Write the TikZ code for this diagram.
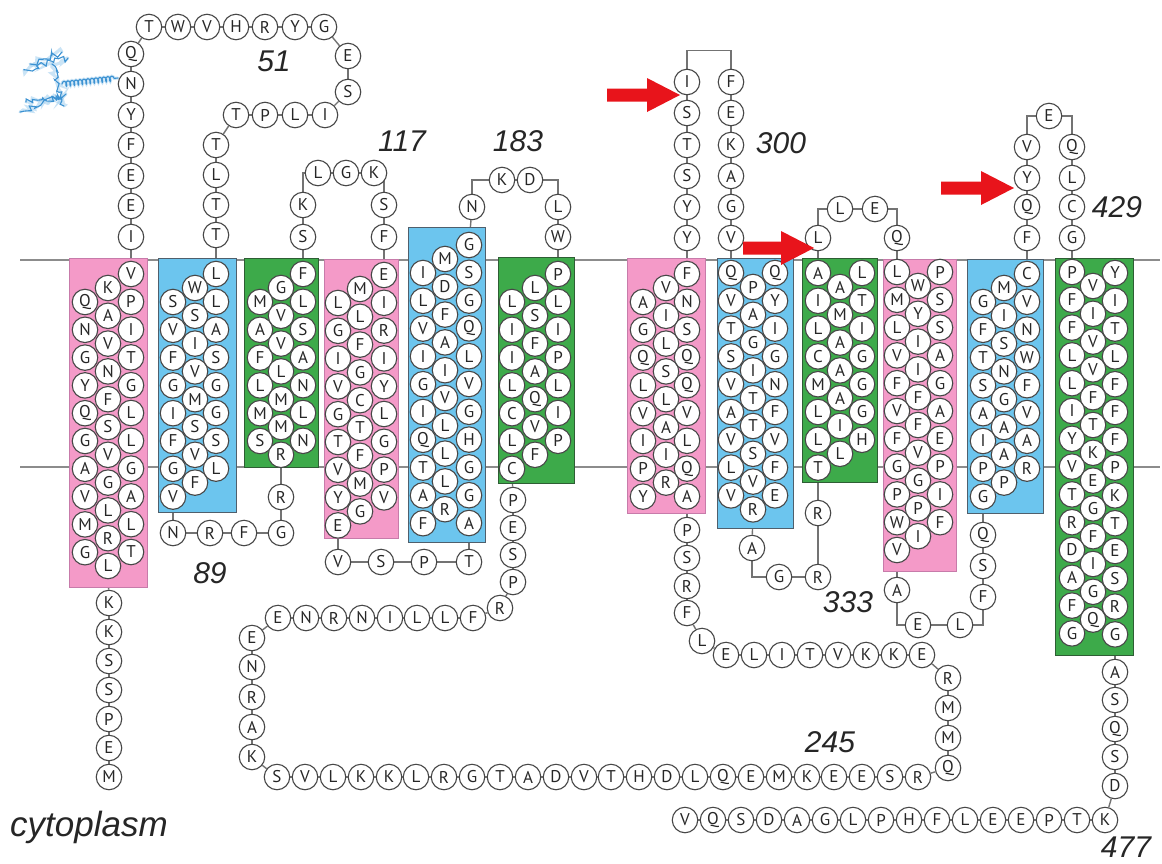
\documentclass[tikz,border=0pt]{standalone}
\usepackage{fontspec}
\setmainfont{PT Sans}
\newfontfamily\labfam{Liberation Sans}
\usetikzlibrary{decorations.pathmorphing}
\pgfdeclarelayer{paper}\pgfdeclarelayer{membrane}\pgfdeclarelayer{links}\pgfdeclarelayer{boxes}
\pgfsetlayers{paper,membrane,links,boxes,main}
\definecolor{tmpink}{HTML}{F49AC8}
\definecolor{tmpinkline}{HTML}{C77BAA}
\definecolor{tmblue}{HTML}{6CC5EE}
\definecolor{tmblueline}{HTML}{4F5F6C}
\definecolor{tmgreen}{HTML}{3DAA4A}
\definecolor{tmgreenline}{HTML}{2E5E34}
\definecolor{arrowred}{HTML}{E8141B}
\definecolor{ribbonblue}{HTML}{3C92D2}
\definecolor{ribbonlight}{HTML}{A8D2F0}
\newcommand\resfont{\fontsize{17}{17}\selectfont}
\newcommand\labfont{\labfam\itshape\fontsize{30}{30}\selectfont}
\newcommand\cytofont{\labfam\itshape\fontsize{35}{35}\selectfont}
\tikzset{
  res/.style={circle, draw=black!72, fill=white, line width=1.1pt, minimum size=25.5pt, inner sep=0pt, font=\resfont, text=black!85},
  link/.style={draw=black!55, line width=1.4pt},
  membrane/.style={draw=black!45, line width=1.4pt},
  pinkbox/.style={fill=tmpink, draw=tmpinkline, line width=1pt},
  bluebox/.style={fill=tmblue, draw=tmblueline, line width=1pt},
  greenbox/.style={fill=tmgreen, draw=tmgreenline, line width=1pt},
  numlab/.style={font=\labfont, text=black!85, inner sep=0pt},
  redarrow/.style={fill=arrowred, draw=none},
  ribbonsoft/.style={draw=ribbonlight, line width=3pt, opacity=0.6, line cap=round},
  ribbonhard/.style={draw=ribbonblue, line width=1.1pt, line cap=round},
  coilA/.style={decorate, decoration={random steps, segment length=3pt, amplitude=3.5pt}},
  coilB/.style={decorate, decoration={coil, aspect=0.5, segment length=4pt, amplitude=2.5pt}}
}
\newcommand\helixcol[4]{%
  \foreach \t [count=\i] in {#4} {%
    \node[res] (#1-\i) at (#2,{#3+(\i-1)*27.8}) {\t};
  }%
}
\newcommand\loopchain[2]{%
  \foreach \px/\py/\t [count=\i] in {#2} {%
    \node[res] (#1-\i) at (\px,\py) {\t};
    \ifnum\i>1
      \pgfmathtruncatemacro\j{\i-1}%
      \begin{pgfonlayer}{links}\draw[link] (#1-\j) -- (#1-\i);\end{pgfonlayer}%
    \fi
  }%
}
\begin{document}
\begin{tikzpicture}[x=1pt,y=-1pt]
\useasboundingbox (0,0) rectangle (1162,863);
\begin{pgfonlayer}{paper}
\fill[white] (0,0) rectangle (1162,863);
\end{pgfonlayer}

% membrane
\begin{pgfonlayer}{membrane}
\draw[membrane] (20,260) -- (1160,260);
\draw[membrane] (20,467) -- (1160,467);
\end{pgfonlayer}

% helix boxes
\begin{pgfonlayer}{boxes}
\draw[pinkbox]  (69,258) rectangle (147,587);
\draw[bluebox]  (158,258) rectangle (236,512);
\draw[greenbox] (244,258) rectangle (318,467);
\draw[pinkbox]  (324,259) rectangle (398,538);
\draw[bluebox]  (408,227) rectangle (485,542);
\draw[greenbox] (498,257) rectangle (574,483);
\draw[pinkbox]  (627,258) rectangle (705,513);
\draw[bluebox]  (717,258) rectangle (793,528);
\draw[greenbox] (802,258) rectangle (877,482);
\draw[pinkbox]  (883,259) rectangle (956,571);
\draw[bluebox]  (967,259) rectangle (1043,513);
\draw[greenbox] (1055,258) rectangle (1133,655);
\end{pgfonlayer}

% helices
\helixcol{h1l}{85}{302}{Q,N,G,Y,Q,G,A,V,M,G}
\helixcol{h1m}{108}{288}{K,A,V,N,F,S,V,G,L,R,L}
\helixcol{h1r}{131}{274}{V,P,I,T,G,L,L,G,A,L,T}
\helixcol{h2l}{173}{302}{S,V,F,G,I,F,G,V}
\helixcol{h2m}{195}{288}{W,S,I,V,M,S,V,F}
\helixcol{h2r}{216}{274}{L,L,A,S,G,G,S,L}
\helixcol{h3l}{260}{302}{M,A,F,L,M,S}
\helixcol{h3m}{281}{288}{G,V,V,L,M,M,R}
\helixcol{h3r}{303}{274}{F,L,S,A,N,L,N}
\helixcol{h4l}{338}{303}{L,G,I,V,G,T,V,Y,E}
\helixcol{h4m}{360}{289}{M,L,F,G,C,T,F,M,G}
\helixcol{h4r}{384}{275}{E,I,R,I,Y,L,G,P,V}
\helixcol{h5l}{423}{273}{I,L,V,I,G,I,Q,T,A,F}
\helixcol{h5m}{445}{259}{M,D,F,A,I,V,L,L,L,R}
\helixcol{h5r}{469}{245}{G,S,G,Q,L,V,G,H,G,G,A}
\helixcol{h6l}{512}{302}{L,I,I,L,C,L,C}
\helixcol{h6m}{535}{288}{L,S,F,A,Q,V,F}
\helixcol{h6r}{558}{274}{P,L,I,P,L,I,P}
\helixcol{h7l}{643}{302}{A,G,Q,L,V,I,P,Y}
\helixcol{h7m}{666}{288}{V,I,L,S,L,A,I,R}
\helixcol{h7r}{687}{274}{F,N,S,Q,Q,V,L,Q,A}
\helixcol{h8l}{731}{273}{Q,V,T,S,V,A,V,L,V}
\helixcol{h8m}{753}{287}{P,A,G,I,T,T,S,V,R}
\helixcol{h8r}{775}{273}{Q,Y,I,G,N,F,V,F,E}
\helixcol{h9l}{818}{273}{A,I,L,C,M,L,L,T}
\helixcol{h9m}{840}{287}{A,M,A,A,A,I,L}
\helixcol{h9r}{862}{273}{L,T,I,G,G,G,H}
\helixcol{h10l}{897}{272}{L,M,L,V,F,V,F,G,P,W,V}
\helixcol{h10m}{918}{286}{W,Y,I,I,F,F,V,G,P,I}
\helixcol{h10r}{940}{272}{P,S,S,A,G,A,E,P,I,F}
\helixcol{h11l}{983}{302}{G,F,T,S,A,I,P,G}
\helixcol{h11m}{1004}{288}{M,I,S,N,G,A,A,P}
\helixcol{h11r}{1027}{274}{C,V,N,W,F,V,A,R}
\helixcol{h12l}{1072}{272}{P,F,F,L,L,I,Y,V,T,R,D,A,F,G}
\helixcol{h12m}{1093}{286}{V,I,V,V,F,T,K,E,G,F,I,G,Q}
\helixcol{h12r}{1115}{273}{Y,I,T,L,F,F,F,P,K,T,E,S,R,G}

% loops
\loopchain{nt}{109/603/K,109/632/K,109/661/S,109/690/S,109/719/P,109/748/E,109/777/M}
\loopchain{e1}{131/237/I,131/206/E,131/176/E,131/145/F,131/115/Y,131/84/N,131/54/Q,149/27/T,178/27/W,207/27/V,236/27/H,265/27/R,295/27/Y,324/27/G,348/56/E,348/92/S,325/115/I,295/115/L,265/115/P,236/115/T,216/145/T,216/175/L,216/205/T,216/235/T}
\loopchain{c1}{173/533/N,210/533/R,244/533/F,281/533/G,281/497/R}
\loopchain{e2a}{303/237/S,303/205/K}
\loopchain{e2b}{318/173/L,346/173/G,374/173/K}
\loopchain{e2c}{384/205/S,384/237/F}
\loopchain{c2}{338/562/V,381/562/S,424/562/P,469/562/T}
\loopchain{e3a}{472/207/N}
\loopchain{e3b}{502/180/K,530/180/D}
\loopchain{e3c}{558/207/L,558/237/W}
\loopchain{c3}{513/500/P,513/528/E,513/555/S,513/582/P,500/608/R,473/618/F,445/618/L,417/618/L,390/618/I,362/618/N,334/618/R,306/618/N,278/618/E,252/638/E,252/667/N,252/697/R,252/727/A,252/757/K,277/777/S,305/777/V,333/777/L,361/777/K,389/777/K,416/777/L,444/777/R,472/777/G,500/777/T,528/777/A,556/777/D,584/777/V,611/777/T,639/777/H,667/777/D,695/777/L,723/777/Q,751/777/E,779/777/M,807/777/K,834/777/E,862/777/E,890/777/S,918/777/R,948/768/Q,948/738/M,948/708/M,948/678/R,922/655/E,894/655/K,866/655/K,838/655/V,810/655/T,782/655/I,754/655/L,726/655/E,702/641/L,687/613/F,687/586/R,687/558/S,687/530/P}
\loopchain{e4a}{687/238/Y,687/207/Y,687/176/S,687/145/T,687/113/S,687/82/I}
\loopchain{e4b}{731/82/F,731/113/E,731/145/K,731/176/A,731/207/G,731/238/V}
\loopchain{c4a}{752/548/A}
\loopchain{c4b}{779/577/G,818/577/R,818/513/R}
\loopchain{e5a}{818/238/L}
\loopchain{e5b}{840/209/L,875/209/E}
\loopchain{e5c}{897/238/Q}
\loopchain{c5a}{897/590/A}
\loopchain{c5b}{918/625/E,960/625/L}
\loopchain{c5c}{983/597/F,983/566/S,983/535/Q}
\loopchain{e6a}{1027/238/F,1027/207/Q,1027/178/Y,1027/147/V}
\loopchain{e6b}{1049/116/E}
\loopchain{e6c}{1072/147/Q,1072/178/L,1072/207/C,1072/238/G}
\loopchain{ct}{1115/672/A,1115/700/S,1115/729/Q,1115/757/S,1115/786/D,1105/820/K,1077/820/T,1049/820/P,1021/820/E,993/820/E,965/820/L,937/820/F,909/820/H,881/820/P,853/820/L,825/820/G,797/820/A,769/820/D,741/820/S,713/820/Q,685/820/V}

% connectors between loops and helices, and elbows
\begin{pgfonlayer}{links}
\draw[link] (h1m-11) -- (nt-1);
\draw[link] (h1r-1) -- (e1-1);
\draw[link] (e1-24) -- (h2r-1);
\draw[link] (h2l-8) -- (c1-1);
\draw[link] (c1-5) -- (h3m-7);
\draw[link] (h3r-1) -- (e2a-1);
\draw[link] (e2a-2) |- (e2b-1);
\draw[link] (e2b-3) -| (e2c-1);
\draw[link] (e2c-2) -- (h4r-1);
\draw[link] (h4l-9) -- (c2-1);
\draw[link] (c2-4) -- (h5r-11);
\draw[link] (h5r-1) -- (e3a-1);
\draw[link] (e3a-1) |- (e3b-1);
\draw[link] (e3b-2) -| (e3c-1);
\draw[link] (e3c-2) -- (h6r-1);
\draw[link] (h6l-7) -- (c3-1);
\draw[link] (c3-59) -- (h7r-9);
\draw[link] (h7r-1) -- (e4a-1);
\draw[link] (e4a-6.north) -- ([yshift=18pt]e4a-6.north) -| (e4b-1.north);
\draw[link] (e4b-6) -- (h8l-1);
\draw[link] (h8m-9) -- (c4a-1);
\draw[link] (c4a-1) |- (c4b-1);
\draw[link] (c4b-3) -- (h9l-8);
\draw[link] (h9l-1) -- (e5a-1);
\draw[link] (e5a-1) |- (e5b-1);
\draw[link] (e5b-2) -| (e5c-1);
\draw[link] (e5c-1) -- (h10l-1);
\draw[link] (h10l-11) -- (c5a-1);
\draw[link] (c5a-1) |- (c5b-1);
\draw[link] (c5b-2) -| (c5c-1);
\draw[link] (c5c-3) -- (h11l-8);
\draw[link] (h11r-1) -- (e6a-1);
\draw[link] (e6a-4) |- (e6b-1);
\draw[link] (e6b-1) -| (e6c-1);
\draw[link] (e6c-4) -- (h12l-1);
\draw[link] (h12r-14) -- (ct-1);
\end{pgfonlayer}

% labels
\node[numlab] (l51) at (274,61) {51};
\node[numlab] (l117) at (402,141) {117};
\node[numlab] (l183) at (518,141) {183};
\node[numlab] (l89) at (210,573) {89};
\node[numlab] (l300) at (781,143) {300};
\node[numlab] (l333) at (848,602) {333};
\node[numlab] (l245) at (830,742) {245};
\node[numlab] (l429) at (1117,207) {429};
\node[numlab] (l477) at (1126,847) {477};
\node[numlab, font=\cytofont, anchor=base west] (lcyto) at (10,836) {cytoplasm};

% red arrows
\fill[redarrow] (607,88.5) -- (647,88.5) -- (647,78) -- (680,95) -- (647,112) -- (647,101.5) -- (607,101.5) -- cycle;
\fill[redarrow] (743,241.5) -- (781,241.5) -- (781,231) -- (814,248) -- (781,265) -- (781,254.5) -- (743,254.5) -- cycle;
\fill[redarrow] (941,181.5) -- (981,181.5) -- (981,171) -- (1014,188) -- (981,205) -- (981,194.5) -- (941,194.5) -- cycle;

% blue ribbon decoration
\foreach \s in {ribbonsoft, ribbonhard} {
  \draw[\s, coilA] (24,70) -- (68,58);
  \draw[\s, coilA] (30,64) -- (62,52);
  \draw[\s, coilA] (20,112) -- (66,94);
  \draw[\s, coilA] (26,102) -- (58,98);
  \draw[\s, coilA] (52,64) -- (64,106);
  \draw[\s, coilB] (62,84) -- (118,78);
}
\end{tikzpicture}
\end{document}
